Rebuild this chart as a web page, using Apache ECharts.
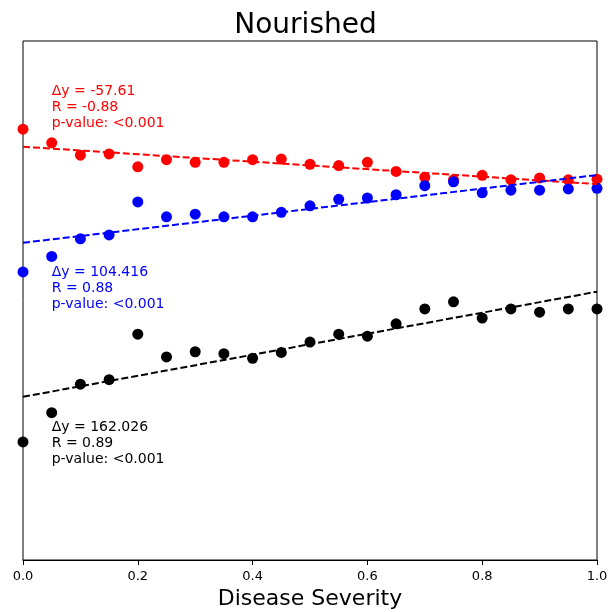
<!DOCTYPE html>
<html>
<head>
<meta charset="utf-8">
<script src="https://cdn.jsdelivr.net/npm/echarts@6/dist/echarts.min.js"></script>
<style>
  html, body { margin: 0; padding: 0; background: #fff; }
  #chart { width: 611px; height: 612px; }
</style>
</head>
<body>
<div id="chart"></div>
<script>
// severity values on the x axis
var severity = [0, 0.05, 0.1, 0.15, 0.2, 0.25, 0.3, 0.35, 0.4, 0.45, 0.5,
  0.55, 0.6, 0.65, 0.7, 0.75, 0.8, 0.85, 0.9, 0.95, 1.0]
var redValues = [664, 643, 624, 626, 606, 617, 613, 613, 617, 618, 610,
  608, 613, 599, 590, 586, 593, 586, 589, 586, 587]
var blueValues = [444, 468, 495, 501, 552, 529, 533, 529, 529, 536, 546,
  556, 558, 563, 577, 583, 566, 570, 570, 572, 573]
var blackValues = [182, 227, 271, 278, 348, 313, 321, 318, 311, 320, 336,
  348, 345, 364, 387, 398, 373, 387, 382, 387, 387]
// fitted line values at severity 0 and 1
var fitX = [0, 1]
var redFit = [637.0, 579.4]
var blueFit = [489.0, 593.4]
var blackFit = [251.6, 413.6]
// annotation texts and the y value where each block starts
var redNote = ['Δy = -57.61', 'R = -0.88', 'p-value: <0.001']
var blueNote = ['Δy = 104.416', 'R = 0.88', 'p-value: <0.001']
var blackNote = ['Δy = 162.026', 'R = 0.89', 'p-value: <0.001']
var noteX = 0.05
var noteTop = [734, 455, 217]

var font = 'DejaVu Sans'

function pts(xs, ys) {
  return xs.map(function(x, i) { return [x, ys[i]] })
}

function scatter(name, color, values) {
  return {
    name: name,
    type: 'scatter',
    data: pts(severity, values),
    symbolSize: 11,
    itemStyle: { color: color, opacity: 1 },
    clip: true,
    silent: true,
    animation: false
  }
}

function fitLine(name, color, values) {
  return {
    name: name,
    type: 'line',
    data: pts(fitX, values),
    showSymbol: false,
    symbol: 'none',
    lineStyle: { color: color, width: 2, type: [7, 3] },
    silent: true,
    animation: false
  }
}

var chart = echarts.init(document.getElementById('chart'))

chart.setOption({
  backgroundColor: '#fff',
  title: {
    text: 'Nourished',
    left: 'center',
    top: 7,
    textStyle: { fontFamily: font, fontSize: 28, fontWeight: 'normal', color: '#000' }
  },
  grid: {
    left: 23,
    right: 14,
    top: 41,
    bottom: 52,
    outerBoundsMode: 'none',
    containLabel: false,
    show: true,
    borderColor: '#000',
    borderWidth: 1
  },
  xAxis: {
    type: 'value',
    min: 0,
    max: 1,
    interval: 0.2,
    name: 'Disease Severity',
    nameLocation: 'middle',
    nameGap: 28,
    nameTextStyle: { fontFamily: font, fontSize: 22, color: '#000' },
    axisLine: { show: true, lineStyle: { color: '#000', width: 1 } },
    axisTick: { show: true, length: 5, lineStyle: { color: '#000' } },
    axisLabel: {
      fontFamily: font,
      fontSize: 13,
      color: '#000',
      margin: 10,
      formatter: function(v) { return v.toFixed(1) }
    },
    splitLine: { show: false }
  },
  yAxis: {
    type: 'value',
    min: 0,
    max: 800,
    axisLine: { show: false },
    axisTick: { show: false },
    axisLabel: { show: false },
    splitLine: { show: false }
  },
  series: [
    scatter('red', '#ff0000', redValues),
    fitLine('redFit', '#ff0000', redFit),
    scatter('blue', '#0000ff', blueValues),
    fitLine('blueFit', '#0000ff', blueFit),
    scatter('black', '#000000', blackValues),
    fitLine('blackFit', '#000000', blackFit)
  ]
})

// place the annotation blocks at their data positions
var notes = [[redNote, '#ff0000'], [blueNote, '#0000ff'], [blackNote, '#000000']]
var graphics = []
notes.forEach(function(n, i) {
  var p = chart.convertToPixel({ gridIndex: 0 }, [noteX, noteTop[i]])
  graphics.push({
    type: 'text',
    left: p[0],
    top: p[1],
    silent: true,
    style: {
      text: n[0].join('\n'),
      fill: n[1],
      font: '14px "' + font + '"',
      lineHeight: 16
    }
  })
})
chart.setOption({ graphic: graphics })
</script>
</body>
</html>
